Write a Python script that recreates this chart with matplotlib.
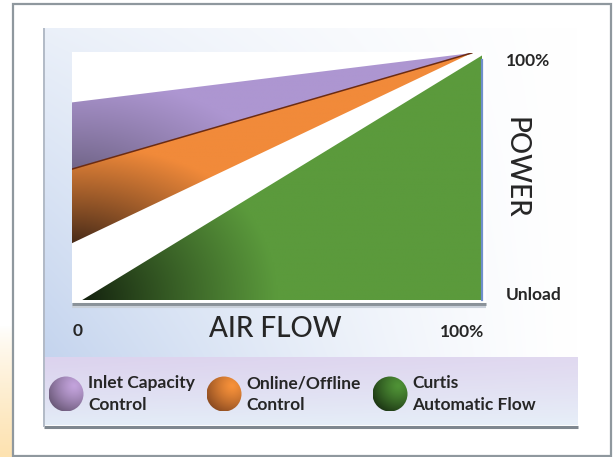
import numpy as np
import matplotlib
matplotlib.use("Agg")
import matplotlib.pyplot as plt
from matplotlib.colors import to_rgb
from matplotlib.patches import Rectangle, Circle

# data (percent of air flow / percent of power)
airflow = [0, 97.5]
inlet_top = [80, 100]
online_top = [53, 100]
online_bottom = [23, 100]
curtis_flow = [2.5, 100, 100]
curtis_power = [0, 99, 0]

legend_labels = ["Inlet Capacity\nControl", "Online/Offline\nControl", "Curtis\nAutomatic Flow"]
legend_bright = ["#c3a3dc", "#f7913a", "#4f9236"]
legend_dark = ["#54465f", "#70391a", "#0f1e0b"]

W, H = 613, 457
TXT = "#262626"
FONT = "Lato"


def blend(c0, c1, t):
    c0 = np.array(to_rgb(c0))
    c1 = np.array(to_rgb(c1))
    t = np.clip(t, 0, 1)[..., None]
    return c0 * (1 - t) + c1 * t


def radial(cx, cy, rx, ry, dark, bright, gamma=1.0):
    X, Y = np.meshgrid(np.linspace(0, 100, 300), np.linspace(0, 100, 300))
    d = np.sqrt(((X - cx) / rx) ** 2 + ((Y - cy) / ry) ** 2)
    return blend(dark, bright, np.clip(d, 0, 1) ** gamma)


fig = plt.figure(figsize=(W / 100, H / 100), dpi=100)
bg = fig.add_axes([0, 0, 1, 1])
bg.axis("off")

# yellow glow left of the frame
gy = np.linspace(0, 1, 100)[:, None] * np.ones((1, 10))
bg.imshow(blend("#ffffff", "#fde2b0", gy ** 0.8), extent=(0, 13, 457, 325),
          origin="upper", aspect="auto")

# outer frame
bg.add_patch(Rectangle((13, 4), 598, 452, fill=False, ec="#8f989e", lw=1.6))

# inner panel gradient
px, py = np.meshgrid(np.linspace(43, 578, 300), np.linspace(28, 357, 200))
t = (1 - (px - 43) / 535) ** 1.3 * (0.35 + 0.65 * (py - 28) / 329)
bg.imshow(blend("#ffffff", "#c4d4ee", t), extent=(43, 578, 357, 28),
          origin="upper", aspect="auto")

# legend band
ly = np.linspace(0, 1, 60)[:, None] * np.ones((1, 200))
lx = np.ones((60, 1)) * np.linspace(0, 1, 200)[None, :]
band = blend("#dcd3ee", "#e3ecf7", ly ** 1.2)
band = band * (1 - 0.25 * lx[..., None]) + 0.25 * lx[..., None] * blend("#eeebf6", "#f2f6fb", ly)
bg.imshow(band, extent=(43, 578, 425, 357), origin="upper", aspect="auto")
bg.plot([44, 578], [426.5, 426.5], color="#7e878f", lw=2.2, solid_capstyle="butt")
bg.plot([43.5, 43.5], [29, 426], color="#b2bac6", lw=1.4)

# white plot area and axis line
bg.add_patch(Rectangle((72, 52), 414, 251, fc="white", ec="none"))
bg.plot([72, 486], [304, 304], color="#8a9299", lw=2.2, solid_capstyle="butt")
bg.plot([72, 486], [306.5, 306.5], color="#c9d0d9", lw=1.5, solid_capstyle="butt")

# legend spheres
for i, (cx, lab) in enumerate(zip([66, 224, 390], legend_labels)):
    cy = 394
    r = 17.5
    sx, sy = np.meshgrid(np.linspace(-1, 1, 80), np.linspace(-1, 1, 80))
    d = np.sqrt((sx - 0.45) ** 2 + (sy + 0.45) ** 2) / 2.0
    img = blend(legend_bright[i], legend_dark[i], d ** 1.3)
    im = bg.imshow(img, extent=(cx - r, cx + r, cy + r, cy - r), origin="upper",
                   aspect="auto")
    circ = Circle((cx, cy), r, transform=bg.transData, fc="none", ec="none")
    bg.add_patch(circ)
    im.set_clip_path(circ)
    bg.text(cx + 22, 394, lab, fontsize=12.5, fontweight="bold", family=FONT,
            color=TXT, ha="left", va="center", linespacing=1.4)

# axis labels
small = dict(fontsize=12.5, fontweight="bold", family=FONT, color=TXT,
             ha="center", va="center")
bg.text(528, 61, "100%", **small)
bg.text(534, 295, "Unload", **small)
bg.text(78, 331, "0", **small)
bg.text(462, 332, "100%", **small)
bg.text(516, 168, "POWER", fontsize=20, family=FONT, fontweight="medium",
        color=TXT, rotation=-90, ha="center", va="center")
bg.text(275, 329, "AIR FLOW", fontsize=20, family=FONT, fontweight="medium",
        color=TXT, ha="center", va="center")

bg.set_xlim(0, W)
bg.set_ylim(H, 0)

# the chart itself
ax = fig.add_axes([72 / W, (H - 300) / H, 410 / W, 247 / H])
ax.axis("off")
ax.set_xlim(0, 100)
ax.set_ylim(0, 100)

bands = [
    (ax.fill_between(airflow, online_top, inlet_top, fc="none", lw=0),
     radial(0, 45, 50, 45, "#5d5570", "#ad96d1", 0.8)),
    (ax.fill_between(airflow, online_bottom, online_top, fc="none", lw=0),
     radial(0, 18, 48, 45, "#2c1b13", "#f18a3a", 0.9)),
    (ax.fill(curtis_flow, curtis_power, fc="none", lw=0)[0],
     radial(0, 0, 50, 70, "#0e180b", "#5b9a3c", 0.9)),
]
for shape, img in bands:
    im = ax.imshow(img, extent=(0, 100, 0, 100), origin="lower", aspect="auto")
    if hasattr(shape, "get_paths"):
        im.set_clip_path(shape.get_paths()[0], transform=ax.transData)
    else:
        im.set_clip_path(shape)

ax.plot(airflow, online_top, color="#6b2b12", lw=1.1)
ax.plot([curtis_flow[1], curtis_flow[2]], [curtis_power[1] - 2, curtis_power[2]],
        color="#6f8fcb", lw=1.6, clip_on=False)
ax.set_xlim(0, 100)
ax.set_ylim(0, 100)

fig.savefig("out.png", dpi=100)
